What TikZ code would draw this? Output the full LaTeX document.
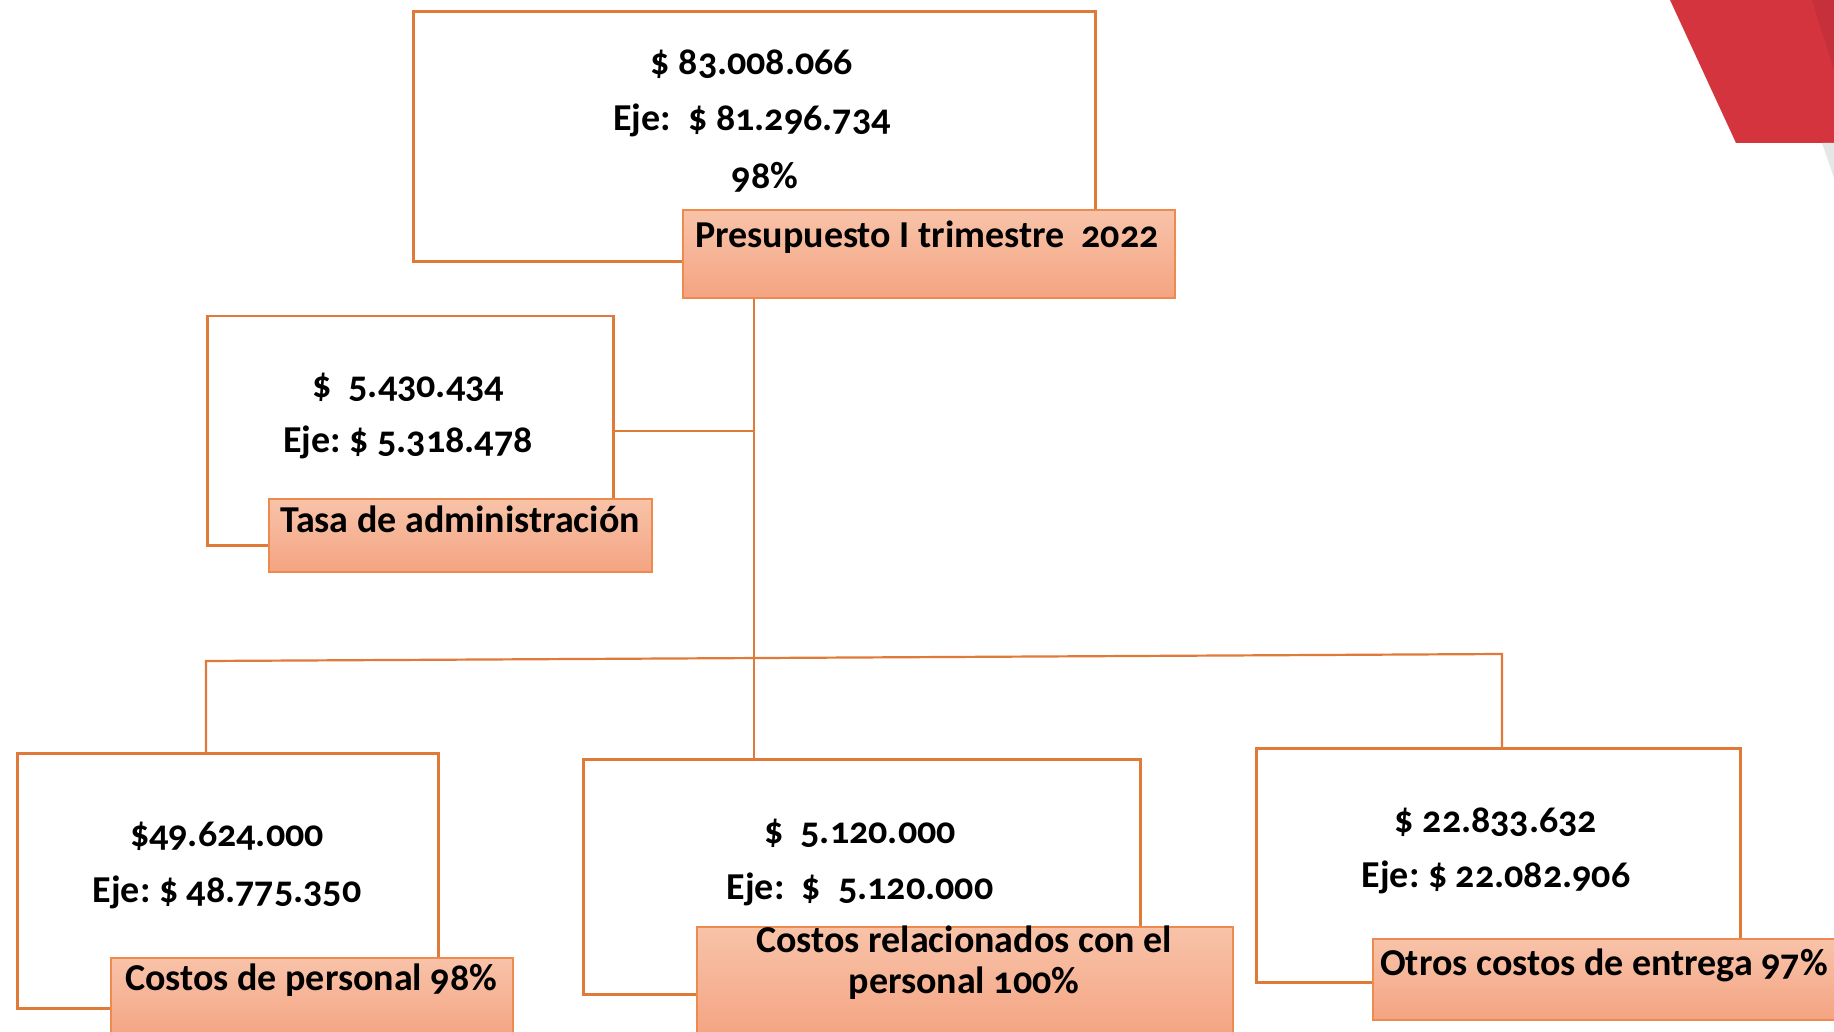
\documentclass[tikz,border=0pt]{standalone}
\usepackage{fontspec}
\setmainfont{Carlito}[Numbers=OldStyle]
\usetikzlibrary{calc}
\frenchspacing
\definecolor{lineor}{HTML}{E07A38}
\definecolor{labtop}{HTML}{F8C3A9}
\definecolor{labbot}{HTML}{F4A482}
\definecolor{labline}{HTML}{EE8A4E}
\definecolor{redA}{HTML}{D4343D}
\definecolor{redB}{HTML}{C5303A}
\definecolor{greyS}{HTML}{E6E6E6}
\begin{document}
\begin{tikzpicture}[x=1pt,y=-1pt,
 box/.style={draw=lineor, line width=2.5pt, fill=white, inner sep=0pt, anchor=north west},
 lab/.style={draw=labline, line width=1.8pt, top color=labtop, bottom color=labbot, inner sep=0pt, anchor=north west},
 txt/.style={font=\bfseries\fontsize{38}{41}\selectfont, inner sep=0pt, anchor=center, align=center},
 conn/.style={draw=lineor, line width=2.2pt}]
\useasboundingbox (0,0) rectangle (1834,1032);
% decorative corner
\fill[redA] (1670,0) -- (1834,0) -- (1834,143) -- (1736,143) -- cycle;
\fill[redB] (1812,0) -- (1834,0) -- (1834,70) -- cycle;
\fill[greyS] (1822,143) -- (1834,143) -- (1834,178) -- cycle;
% boxes
\node[box, minimum width=682, minimum height=250] (topbox) at (412,10.5) {};
\node[box, minimum width=406, minimum height=229] (tbox) at (206,315) {};
\node[box, minimum width=421, minimum height=255] (lbox) at (16,752) {};
\node[box, minimum width=557, minimum height=235] (cbox) at (582,758) {};
\node[box, minimum width=484, minimum height=234] (rbox) at (1255,747) {};
% connectors
\coordinate (barL) at (206,661);
\coordinate (barR) at (1502,654);
\draw[conn] (topbox.south |- 0,297) -- (topbox.south |- cbox.north);
\draw[conn] (tbox.east) -- (tbox.east -| topbox.south);
\draw[conn] (lbox.north -| barL) -- (barL) -- (barR) -- (rbox.north -| barR);
% labels
\node[lab, minimum width=492, minimum height=88] (toplab) at (682,209) {};
\node[lab, minimum width=383, minimum height=73] (tlab) at (268,498) {};
\node[lab, minimum width=402, minimum height=80] (llab) at (110,957) {};
\node[lab, minimum width=536, minimum height=110] (clab) at (696,926) {};
\node[lab, minimum width=480, minimum height=81] (rlab) at (1372,938) {};
% texts
\node[txt] (t1a) at (752,64) {\$ 83.008.066};
\node[txt] (t1b) at (752,120) {Eje:\ \ \$ 81.296.734};
\node[txt] (t1c) at (765,177) {98\%};
\node[txt] (t1d) at (927,237) {Presupuesto I trimestre\ \ 2022};
\node[txt] (t2a) at (408,387) {\$\ \ 5.430.434};
\node[txt] (t2b) at (408,442) {Eje: \$ 5.318.478};
\node[txt] (t2c) at (460,519) {Tasa de administración};
\node[txt] (t3a) at (227,836) {\$49.624.000};
\node[txt] (t3b) at (227,892) {Eje: \$ 48.775.350};
\node[txt] (t3c) at (311,980) {Costos de personal 98\%};
\node[txt] (t4a) at (860,833) {\$\ \ 5.120.000};
\node[txt] (t4b) at (860,889) {Eje:\ \ \$\ \ 5.120.000};
\node[txt] (t4c) at (964,963) {Costos relacionados con el\\personal 100\%};
\node[txt] (t5a) at (1496,822) {\$ 22.833.632};
\node[txt] (t5b) at (1496,877) {Eje: \$ 22.082.906};
\node[txt] (t5c) at (1604,965) {Otros costos de entrega 97\%};
\end{tikzpicture}
\end{document}
